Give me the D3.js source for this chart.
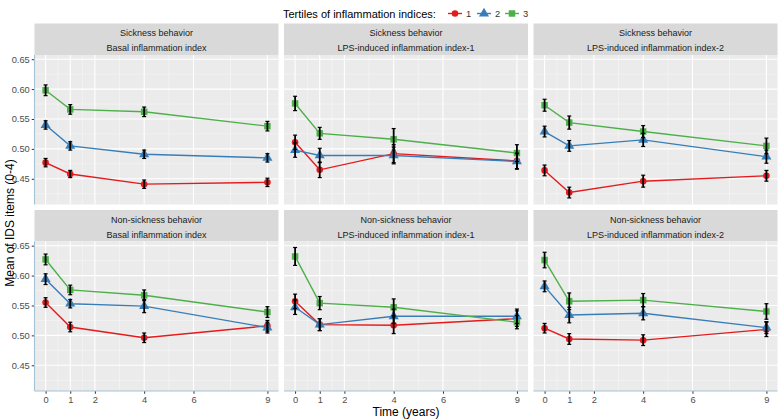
<!DOCTYPE html>
<html><head><meta charset="utf-8">
<script src="https://cdn.jsdelivr.net/npm/d3@7"></script>
<style>body{margin:0;background:#fff}svg{display:block;font-family:"Liberation Sans",Arial,sans-serif}</style>
</head><body><svg id="c" width="778" height="419"></svg>
<script>
const times = [0, 1, 4, 9];
const xBreaks = [0, 1, 2, 4, 6, 9];
const xMinor = [0.5, 1.5, 3, 5, 7.5];
const yBreaks = [0.45, 0.50, 0.55, 0.60, 0.65];
const yMinor = [0.425, 0.475, 0.525, 0.575, 0.625];
const behaviors = ["Sickness behavior", "Non-sickness behavior"];
const indices = ["Basal inflammation index", "LPS-induced inflammation index-1", "LPS-induced inflammation index-2"];
const tertiles = ["1", "2", "3"];
// means per panel (row-major: Sickness x3, Non-sickness x3), at times 0,1,4,9
const t1Mean = [
  [0.477, 0.458, 0.441, 0.444],
  [0.511, 0.465, 0.492, 0.480],
  [0.464, 0.427, 0.446, 0.455],
  [0.555, 0.514, 0.496, 0.516],
  [0.557, 0.518, 0.517, 0.528],
  [0.512, 0.494, 0.492, 0.510]
];
const t2Mean = [
  [0.540, 0.505, 0.491, 0.485],
  [0.498, 0.489, 0.489, 0.479],
  [0.529, 0.505, 0.515, 0.487],
  [0.594, 0.553, 0.549, 0.513],
  [0.547, 0.518, 0.532, 0.532],
  [0.582, 0.534, 0.537, 0.513]
];
const t3Mean = [
  [0.598, 0.566, 0.562, 0.538],
  [0.576, 0.526, 0.516, 0.493],
  [0.573, 0.544, 0.529, 0.505],
  [0.627, 0.576, 0.567, 0.539],
  [0.632, 0.554, 0.547, 0.522],
  [0.626, 0.557, 0.559, 0.540]
];
const t1Err = [
  [0.007, 0.006, 0.007, 0.007],
  [0.012, 0.013, 0.015, 0.013],
  [0.009, 0.009, 0.010, 0.009],
  [0.008, 0.008, 0.008, 0.009],
  [0.012, 0.010, 0.014, 0.013],
  [0.008, 0.009, 0.009, 0.012]
];
const t2Err = [
  [0.007, 0.007, 0.007, 0.007],
  [0.012, 0.012, 0.014, 0.013],
  [0.009, 0.009, 0.011, 0.011],
  [0.009, 0.007, 0.011, 0.009],
  [0.012, 0.010, 0.012, 0.012],
  [0.009, 0.013, 0.011, 0.010]
];
const t3Err = [
  [0.009, 0.008, 0.008, 0.008],
  [0.012, 0.010, 0.018, 0.014],
  [0.010, 0.011, 0.010, 0.013],
  [0.009, 0.008, 0.009, 0.009],
  [0.015, 0.011, 0.014, 0.011],
  [0.013, 0.014, 0.011, 0.013]
];
const colors = ["#E41A1C", "#377EB8", "#4DAF4A"];
const shapes = [d3.symbolCircle, d3.symbolTriangle, d3.symbolSquare];
const symSizes = [34, 44, 42];
const means = [t1Mean, t2Mean, t3Mean];
const errs = [t1Err, t2Err, t3Err];

const svg = d3.select("#c");
const L = 34.5, R = 777.5, gapX = 5.5, gapY = 5.5;
const pw = (R - L - 2 * gapX) / 3;
const stripH = 31.5, ph = 149.5, top0 = 23.5;
const x = d3.scaleLinear().domain([-0.45, 9.45]).range([0, pw]);
const y = d3.scaleLinear().domain([0.407, 0.657]).range([ph, 0]);
const axisCol = "#a6c2d6";

for (let r = 0; r < 2; r++) {
  for (let c = 0; c < 3; c++) {
    const p = r * 3 + c;
    const px = L + c * (pw + gapX);
    const sy = top0 + r * (stripH + ph + gapY);
    const py = sy + stripH;
    // strip
    svg.append("rect").attr("x", px).attr("y", sy).attr("width", pw).attr("height", stripH).attr("fill", "#D9D9D9");
    svg.append("text").attr("x", px + pw / 2).attr("y", sy + 9.5).attr("text-anchor", "middle").attr("dominant-baseline", "central")
      .attr("font-size", 9).attr("fill", "#1A1A1A").text(behaviors[r]);
    svg.append("text").attr("x", px + pw / 2).attr("y", sy + 24.5).attr("text-anchor", "middle").attr("dominant-baseline", "central")
      .attr("font-size", 9).attr("fill", "#1A1A1A").text(indices[c]);
    const g = svg.append("g").attr("transform", `translate(${px},${py})`);
    g.append("rect").attr("width", pw).attr("height", ph).attr("fill", "#EBEBEB");
    yMinor.forEach(v => g.append("line").attr("x1", 0).attr("x2", pw).attr("y1", y(v)).attr("y2", y(v)).attr("stroke", "#F7F7F7").attr("stroke-width", 0.55));
    xMinor.forEach(v => g.append("line").attr("y1", 0).attr("y2", ph).attr("x1", x(v)).attr("x2", x(v)).attr("stroke", "#F7F7F7").attr("stroke-width", 0.55));
    yBreaks.forEach(v => g.append("line").attr("x1", 0).attr("x2", pw).attr("y1", y(v)).attr("y2", y(v)).attr("stroke", "#fff").attr("stroke-width", 1.1));
    xBreaks.forEach(v => g.append("line").attr("y1", 0).attr("y2", ph).attr("x1", x(v)).attr("x2", x(v)).attr("stroke", "#fff").attr("stroke-width", 1.1));
    // series
    for (let s = 0; s < 3; s++) {
      const pts = times.map((t, i) => ({ t, m: means[s][p][i], e: errs[s][p][i] }));
      g.append("path").datum(pts).attr("fill", "none").attr("stroke", colors[s]).attr("stroke-width", 1.4)
        .attr("d", d3.line().x(d => x(d.t)).y(d => y(d.m)));
    }
    for (let s = 0; s < 3; s++) {
      const pts = times.map((t, i) => ({ t, m: means[s][p][i], e: errs[s][p][i] }));
      g.selectAll(null).data(pts).enter().append("path")
        .attr("transform", d => `translate(${x(d.t)},${y(d.m)})`)
        .attr("d", d3.symbol().type(shapes[s]).size(symSizes[s])).attr("fill", colors[s]);
    }
    for (let s = 0; s < 3; s++) {
      const pts = times.map((t, i) => ({ t, m: means[s][p][i], e: errs[s][p][i] }));
      const eb = g.selectAll(null).data(pts).enter().append("g").attr("stroke", "#000").attr("stroke-width", 1.8);
      eb.append("line").attr("x1", d => x(d.t)).attr("x2", d => x(d.t)).attr("y1", d => y(d.m - d.e)).attr("y2", d => y(d.m + d.e));
      eb.append("line").attr("x1", d => x(d.t) - 2).attr("x2", d => x(d.t) + 2).attr("y1", d => y(d.m - d.e)).attr("y2", d => y(d.m - d.e)).attr("stroke-width", 1.2);
      eb.append("line").attr("x1", d => x(d.t) - 2).attr("x2", d => x(d.t) + 2).attr("y1", d => y(d.m + d.e)).attr("y2", d => y(d.m + d.e)).attr("stroke-width", 1.2);
    }
    if (c === 0) {
      const ya = g.append("g").call(d3.axisLeft(y).tickValues(yBreaks).tickFormat(d3.format(".2f")).tickSize(2.75).tickPadding(2));
      ya.select(".domain").remove();
      ya.selectAll(".tick line").attr("stroke", "#333");
      ya.selectAll(".tick text").attr("font-size", 9.3).attr("fill", "#4D4D4D").attr("font-family", "Liberation Sans, Arial, sans-serif");
      g.append("line").attr("x1", 0).attr("x2", 0).attr("y1", 0).attr("y2", ph).attr("stroke", axisCol).attr("stroke-width", 1.1);
    }
    if (r === 1) {
      const xa = g.append("g").attr("transform", `translate(0,${ph})`).call(d3.axisBottom(x).tickValues(xBreaks).tickFormat(d3.format("d")).tickSize(2.75).tickPadding(3));
      xa.select(".domain").remove();
      xa.selectAll(".tick line").attr("stroke", "#333");
      xa.selectAll(".tick text").attr("font-size", 9.3).attr("fill", "#4D4D4D").attr("font-family", "Liberation Sans, Arial, sans-serif");
      g.append("line").attr("x1", 0).attr("x2", pw).attr("y1", ph).attr("y2", ph).attr("stroke", axisCol).attr("stroke-width", 1.1);
    }
  }
}
// axis titles
svg.append("text").attr("x", (L + R) / 2).attr("y", 412).attr("text-anchor", "middle").attr("dominant-baseline", "central")
  .attr("font-size", 12).attr("fill", "#000").text("Time (years)");
svg.append("text").attr("transform", `translate(10,${(55 + 391) / 2}) rotate(-90)`).attr("text-anchor", "middle").attr("dominant-baseline", "central")
  .attr("font-size", 12).attr("fill", "#000").text("Mean of IDS items (0-4)");
// legend
svg.append("text").attr("x", 283).attr("y", 13.5).attr("dominant-baseline", "central").attr("font-size", 11).attr("fill", "#000")
  .text("Tertiles of inflammation indices:");
const keyX = [455, 484, 512];
tertiles.forEach((t, s) => {
  const kx = keyX[s];
  svg.append("line").attr("x1", kx - 7).attr("x2", kx + 7).attr("y1", 13.5).attr("y2", 13.5).attr("stroke", colors[s]).attr("stroke-width", 1.4);
  svg.append("path").attr("transform", `translate(${kx},13.5)`).attr("d", d3.symbol().type(shapes[s]).size(symSizes[s])).attr("fill", colors[s]);
  svg.append("text").attr("x", kx + 11).attr("y", 13.5).attr("dominant-baseline", "central").attr("font-size", 9.3).attr("fill", "#333").text(t);
});
</script></body></html>
